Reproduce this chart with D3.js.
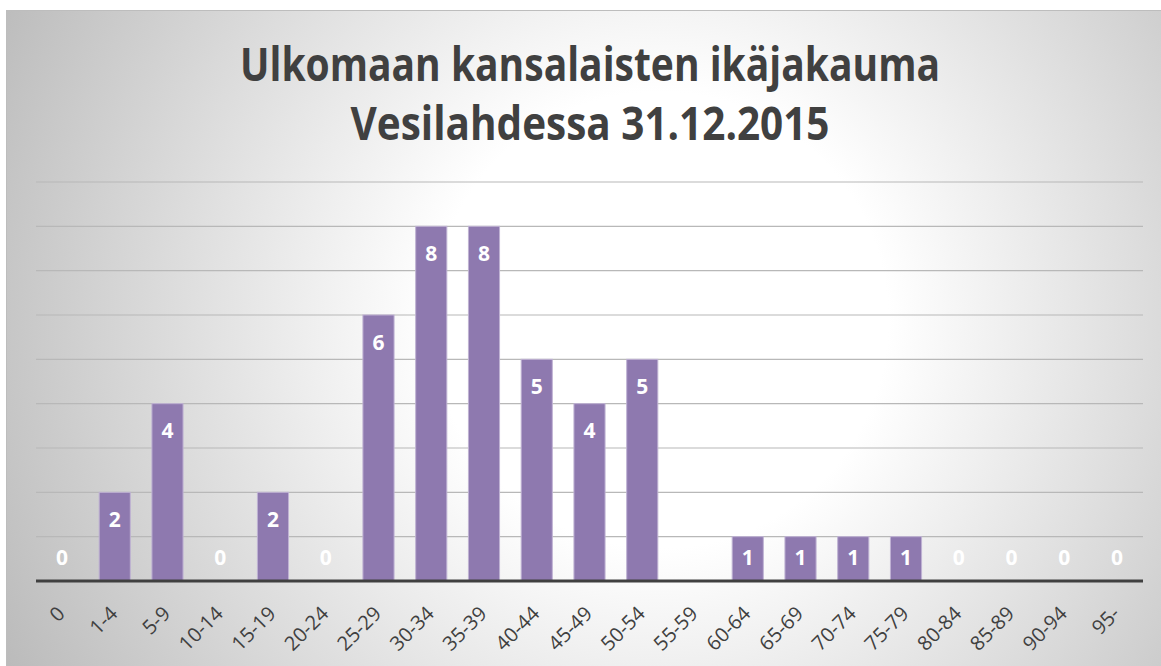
<!DOCTYPE html>
<html>
<head>
<meta charset="utf-8">
<script src="https://cdn.jsdelivr.net/npm/d3@7"></script>
<style>
  html, body { margin: 0; padding: 0; background: #fff; }
  svg { display: block; }
</style>
</head>
<body>
<svg id="chart"></svg>
<script>
// Age groups and counts
const ageGroups = ["0", "1-4", "5-9", "10-14", "15-19", "20-24", "25-29", "30-34", "35-39", "40-44",
  "45-49", "50-54", "55-59", "60-64", "65-69", "70-74", "75-79", "80-84", "85-89", "90-94", "95-"];
// 55-59 has no bar and no label in the original
const counts = [0, 2, 4, 0, 2, 0, 6, 8, 8, 5, 4, 5, null, 1, 1, 1, 1, 0, 0, 0, 0];
const gridValues = [1, 2, 3, 4, 5, 6, 7, 8, 9];
const titleLines = ["Ulkomaan kansalaisten ikäjakauma", "Vesilahdessa 31.12.2015"];

const WIDTH = 1161;
const HEIGHT = 666;
const TEXT = "#404040";
const FONT = "'Open Sans', 'Noto Sans', sans-serif";

const svg = d3.select("#chart")
  .attr("width", WIDTH)
  .attr("height", HEIGHT);

// radial background like the office chart style
const defs = svg.append("defs");
const grad = defs.append("radialGradient")
  .attr("id", "bg")
  .attr("gradientUnits", "userSpaceOnUse")
  .attr("cx", 660).attr("cy", 320).attr("r", 760);
grad.append("stop").attr("offset", 0).attr("stop-color", "#ffffff");
grad.append("stop").attr("offset", 0.3).attr("stop-color", "#ffffff");
grad.append("stop").attr("offset", 1).attr("stop-color", "#b8b8b8");

svg.append("rect")
  .attr("x", 6.5).attr("y", 10.5)
  .attr("width", WIDTH).attr("height", HEIGHT)
  .attr("fill", "url(#bg)")
  .attr("stroke", "#bdbdbd");

// scales
const x = d3.scaleBand()
  .domain(ageGroups)
  .range([35.6, 1143.4])
  .paddingInner(0.41)
  .paddingOuter(0.205);

const y = d3.scaleLinear()
  .domain([0, 9])
  .range([581, 182]);

// gridlines
svg.append("g")
  .selectAll("line")
  .data(gridValues)
  .join("line")
  .attr("x1", 36).attr("x2", 1143)
  .attr("y1", d => y(d)).attr("y2", d => y(d))
  .attr("stroke", "#b8b8b8")
  .attr("stroke-width", 1.2);

// bars
const rows = ageGroups.map((g, i) => ({ group: g, value: counts[i] }));

svg.append("g")
  .selectAll("rect")
  .data(rows.filter(d => d.value > 0))
  .join("rect")
  .attr("x", d => x(d.group))
  .attr("y", d => y(d.value))
  .attr("width", x.bandwidth())
  .attr("height", d => y(0) - y(d.value))
  .attr("fill", "#8e79af")
  .attr("stroke", "#bfb2d3")
  .attr("stroke-width", 1);

// baseline
svg.append("line")
  .attr("x1", 36).attr("x2", 1143)
  .attr("y1", y(0)).attr("y2", y(0))
  .attr("stroke", TEXT)
  .attr("stroke-width", 3);

// value labels
svg.append("g")
  .selectAll("text")
  .data(rows.filter(d => d.value !== null))
  .join("text")
  .attr("x", d => x(d.group) + x.bandwidth() / 2)
  .attr("y", d => Math.min(y(d.value) + 27, y(0) - 24))
  .attr("dy", "0.36em")
  .attr("text-anchor", "middle")
  .style("font-family", FONT)
  .style("font-weight", 700)
  .style("font-size", "21px")
  .attr("fill", "#ffffff")
  .text(d => d.value);

// category labels, rotated 45 degrees
svg.append("g")
  .selectAll("text")
  .data(ageGroups)
  .join("text")
  .attr("transform", d => `translate(${x(d) + x.bandwidth() / 2 + 4},${y(0) + 34}) rotate(-45)`)
  .attr("text-anchor", "end")
  .style("font-family", FONT)
  .style("font-size", "20px")
  .attr("fill", TEXT)
  .text(d => d);

// title
svg.append("g")
  .selectAll("text")
  .data(titleLines)
  .join("text")
  .attr("x", 590)
  .attr("y", (d, i) => 81 + i * 59)
  .attr("text-anchor", "middle")
  .style("font-family", FONT)
  .style("font-weight", 700)
  .style("font-size", "46px")
  .attr("fill", TEXT)
  .attr("textLength", (d, i) => [700, 479][i])
  .attr("lengthAdjust", "spacingAndGlyphs")
  .text(d => d);
</script>
</body>
</html>
